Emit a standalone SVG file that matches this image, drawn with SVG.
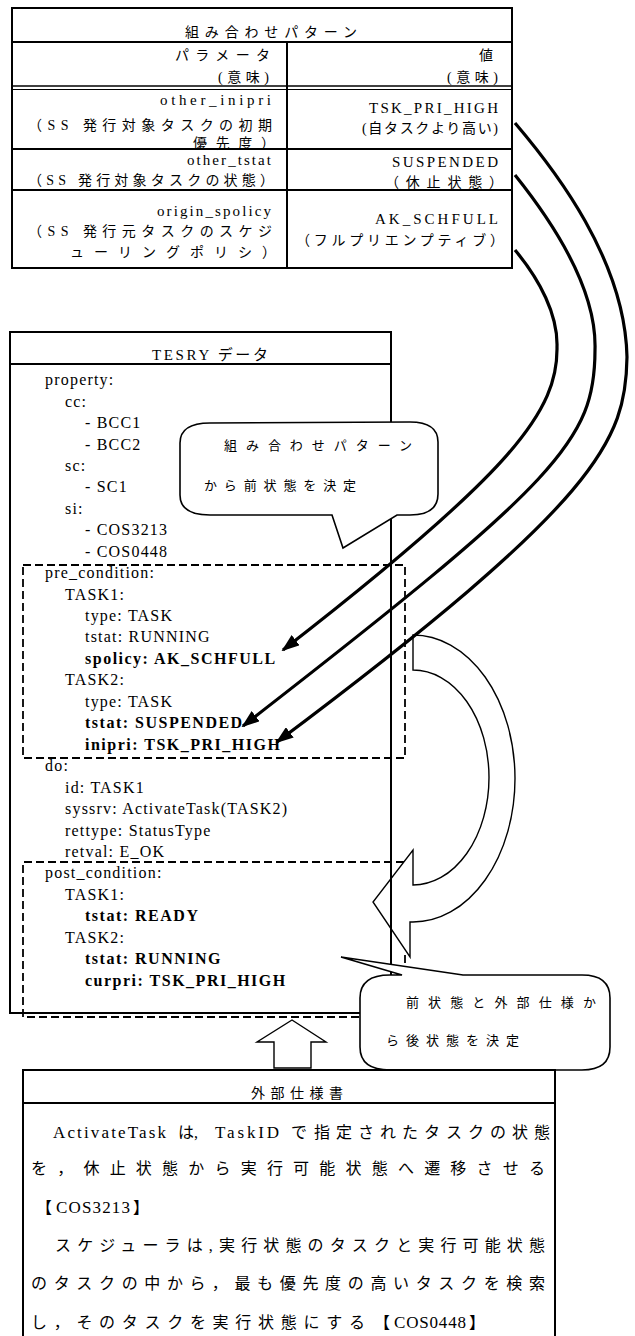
<svg xmlns="http://www.w3.org/2000/svg" width="635" height="1336" viewBox="0 0 635 1336">
<style>
text{font-family:"Liberation Serif","Noto Sans CJK JP",serif;fill:#000}
.t{font-size:14px}
.l{font-size:15px}
.y{font-size:16px;letter-spacing:1.2px}
.b{font-size:16px;letter-spacing:1.5px;font-weight:bold}
.c{font-size:13px}
.s{font-size:16px}
.frame{fill:none;stroke:#000;stroke-width:2}
.ln{stroke:#000;stroke-width:2}
.dash{fill:none;stroke:#000;stroke-width:1.8;stroke-dasharray:8 4}
.blk{fill:#fff;stroke:#000;stroke-width:1.4;stroke-linejoin:miter}
.call{fill:#fff;stroke:#000;stroke-width:1.6}
.cv{fill:none;stroke:#000;stroke-width:3.2}
</style>
<defs>
<marker id="ah" viewBox="0 0 18 13" refX="16" refY="6.5" markerWidth="18" markerHeight="13" markerUnits="userSpaceOnUse" orient="auto">
<path d="M0,0 L18,6.5 L0,13 Z" fill="#000"/>
</marker>
</defs>
<rect width="635" height="1336" fill="#fff"/>

<g id="block-arrows">
<path id="u-arrow" class="blk" d="M413,635 A102,143.5 0 0 1 413,922 L410,922 L410,957 L373,902 L413,850 L413,885 A76,107.5 0 0 0 413,670 Z"/>
<path id="up-arrow" class="blk" d="M292,1020 L326,1042 L311,1042 L311,1068 L274,1068 L274,1042 L257,1042 Z"/>
</g>

<g id="pattern-table">
<rect class="frame" x="12" y="8" width="500" height="260"/>
<line class="ln" x1="12" y1="42" x2="512" y2="42"/>
<line stroke="#000" stroke-width="1.5" x1="12" y1="86" x2="512" y2="86"/>
<line stroke="#000" stroke-width="1" x1="12" y1="89.5" x2="512" y2="89.5"/>
<line class="ln" x1="12" y1="149" x2="512" y2="149"/>
<line class="ln" x1="12" y1="190" x2="512" y2="190"/>
<line class="ln" x1="287" y1="42" x2="287" y2="268"/>
<text class="t" x="185" y="37" textLength="172" lengthAdjust="spacing">組み合わせパターン</text>
<text class="t" x="175" y="60" textLength="95" lengthAdjust="spacing">パラメータ</text>
<text class="t" x="218" y="82" textLength="51" lengthAdjust="spacing">(意味)</text>
<text class="t" x="479" y="60">値</text>
<text class="t" x="447" y="82" textLength="51" lengthAdjust="spacing">(意味)</text>
<text class="l" x="160" y="105" textLength="111" lengthAdjust="spacing">other_inipri</text>
<text class="t" x="28" y="130" textLength="244" lengthAdjust="spacing">（SS 発行対象タスクの初期</text>
<text class="t" x="193" y="148" textLength="82" lengthAdjust="spacing">優先度）</text>
<text class="l" x="369" y="113" textLength="129" lengthAdjust="spacing">TSK_PRI_HIGH</text>
<text class="t" x="362" y="133" textLength="136" lengthAdjust="spacing">(自タスクより高い)</text>
<text class="l" x="187" y="165" textLength="84" lengthAdjust="spacing">other_tstat</text>
<text class="t" x="28" y="185" textLength="246" lengthAdjust="spacing">（SS 発行対象タスクの状態）</text>
<text class="l" x="392" y="167" textLength="106" lengthAdjust="spacing">SUSPENDED</text>
<text class="t" x="385" y="187" textLength="118" lengthAdjust="spacing">（休止状態）</text>
<text class="l" x="157" y="216" textLength="114" lengthAdjust="spacing">origin_spolicy</text>
<text class="t" x="28" y="236" textLength="244" lengthAdjust="spacing">（SS 発行元タスクのスケジ</text>
<text class="t" x="70" y="257" textLength="206" lengthAdjust="spacing">ューリングポリシ）</text>
<text class="l" x="375" y="224" textLength="123" lengthAdjust="spacing">AK_SCHFULL</text>
<text class="t" x="296" y="245" textLength="208" lengthAdjust="spacing">（フルプリエンプティブ）</text>
</g>

<g id="tesry-data">
<rect class="frame" x="10" y="332" width="381" height="681"/>
<line class="ln" x1="10" y1="364" x2="391" y2="364"/>
<text class="l" x="152" y="360" textLength="116" lengthAdjust="spacing">TESRY データ</text>
<rect class="dash" x="23" y="565" width="382" height="193"/>
<path class="dash" d="M405,955 L405,1017 L23,1017 L23,862 L404,862"/>
<text class="y" x="45" y="385">property:</text>
<text class="y" x="65" y="406.5">cc:</text>
<text class="y" x="85" y="428">- BCC1</text>
<text class="y" x="85" y="449.5">- BCC2</text>
<text class="y" x="65" y="470.8">sc:</text>
<text class="y" x="85" y="492.3">- SC1</text>
<text class="y" x="65" y="513.7">si:</text>
<text class="y" x="85" y="535.2">- COS3213</text>
<text class="y" x="85" y="556.6">- COS0448</text>
<text class="y" x="45" y="578">pre_condition:</text>
<text class="y" x="65" y="599.5">TASK1:</text>
<text class="y" x="85" y="621">type: TASK</text>
<text class="y" x="85" y="642.4">tstat: RUNNING</text>
<text class="b" x="85" y="663.9">spolicy: AK_SCHFULL</text>
<text class="y" x="65" y="685.3">TASK2:</text>
<text class="y" x="85" y="706.8">type: TASK</text>
<text class="b" x="85" y="728.2">tstat: SUSPENDED</text>
<text class="b" x="85" y="749.7">inipri: TSK_PRI_HIGH</text>
<text class="y" x="45" y="771.1">do:</text>
<text class="y" x="65" y="792.6">id: TASK1</text>
<text class="y" x="65" y="814">syssrv: ActivateTask(TASK2)</text>
<text class="y" x="65" y="835.5">rettype: StatusType</text>
<text class="y" x="65" y="857">retval: E_OK</text>
<text class="y" x="45" y="878.4">post_condition:</text>
<text class="y" x="65" y="899.8">TASK1:</text>
<text class="b" x="85" y="921.3">tstat: READY</text>
<text class="y" x="65" y="942.7">TASK2:</text>
<text class="b" x="85" y="964.2">tstat: RUNNING</text>
<text class="b" x="85" y="985.6">curpri: TSK_PRI_HIGH</text>
</g>

<g id="callout-pre">
<path class="call" d="M210,423 L410,422 Q438,422 438,442 L438,494 Q438,515 410,515 L397,515 L343,548 L332,515 L210,515 Q180,515 180,495 L180,443 Q180,423 210,423 Z"/>
<text class="c" x="224" y="450" textLength="188" lengthAdjust="spacing">組み合わせパターン</text>
<text class="c" x="204" y="490" textLength="152" lengthAdjust="spacing">から前状態を決定</text>
</g>

<g id="callout-post">
<path class="call" d="M390,975 L402,975 L341,957 L463,975 L582,975 Q610,975 610,998 L610,1047 Q610,1070 582,1070 L390,1070 Q360,1070 360,1047 L360,998 Q360,975 390,975 Z"/>
<text class="c" x="406" y="1007" textLength="190" lengthAdjust="spacing">前状態と外部仕様か</text>
<text class="c" x="386" y="1045" textLength="133" lengthAdjust="spacing">ら後状態を決定</text>
</g>

<g id="external-spec">
<rect class="frame" x="23" y="1070" width="532" height="290"/>
<line class="ln" x1="23" y1="1103" x2="555" y2="1103"/>
<text class="t" x="251" y="1098" textLength="92" lengthAdjust="spacing">外部仕様書</text>
<text class="s" y="1138"><tspan x="53" font-size="17" textLength="113" lengthAdjust="spacing">ActivateTask</tspan><tspan x="174"> は,</tspan><tspan x="215" font-size="17" textLength="64" lengthAdjust="spacing">TaskID</tspan><tspan x="291">で</tspan><tspan x="314" textLength="236" lengthAdjust="spacing">指定されたタスクの状態</tspan></text>
<text class="s" x="31" y="1174" textLength="514" lengthAdjust="spacing">を，休止状態から実行可能状態へ遷移させる</text>
<text class="s" y="1213"><tspan x="36">【</tspan><tspan x="56" font-size="17" textLength="74" lengthAdjust="spacing">COS3213</tspan><tspan x="133">】</tspan></text>
<text class="s" x="55" y="1251" textLength="490" lengthAdjust="spacing">スケジューラは,実行状態のタスクと実行可能状態</text>
<text class="s" x="31" y="1289" textLength="514" lengthAdjust="spacing">のタスクの中から，最も優先度の高いタスクを検索</text>
<text class="s" y="1328"><tspan x="31" textLength="334" lengthAdjust="spacing">し，そのタスクを実行状態にする</tspan><tspan x="374">【</tspan><tspan x="394" font-size="17" textLength="72" lengthAdjust="spacing">COS0448</tspan><tspan x="469">】</tspan></text>
</g>

<g id="connectors">
<path class="cv" marker-end="url(#ah)" d="M515,250 C540,280 558,315 557,347 C558,410 515,470 283,650"/>
<path class="cv" marker-end="url(#ah)" d="M515,175 C555,225 597,290 595,350 C595,440 560,480 243,726"/>
<path class="cv" marker-end="url(#ah)" d="M515,123 C555,170 625,260 627,357 C626,440 600,500 277,742"/>
</g>
</svg>
